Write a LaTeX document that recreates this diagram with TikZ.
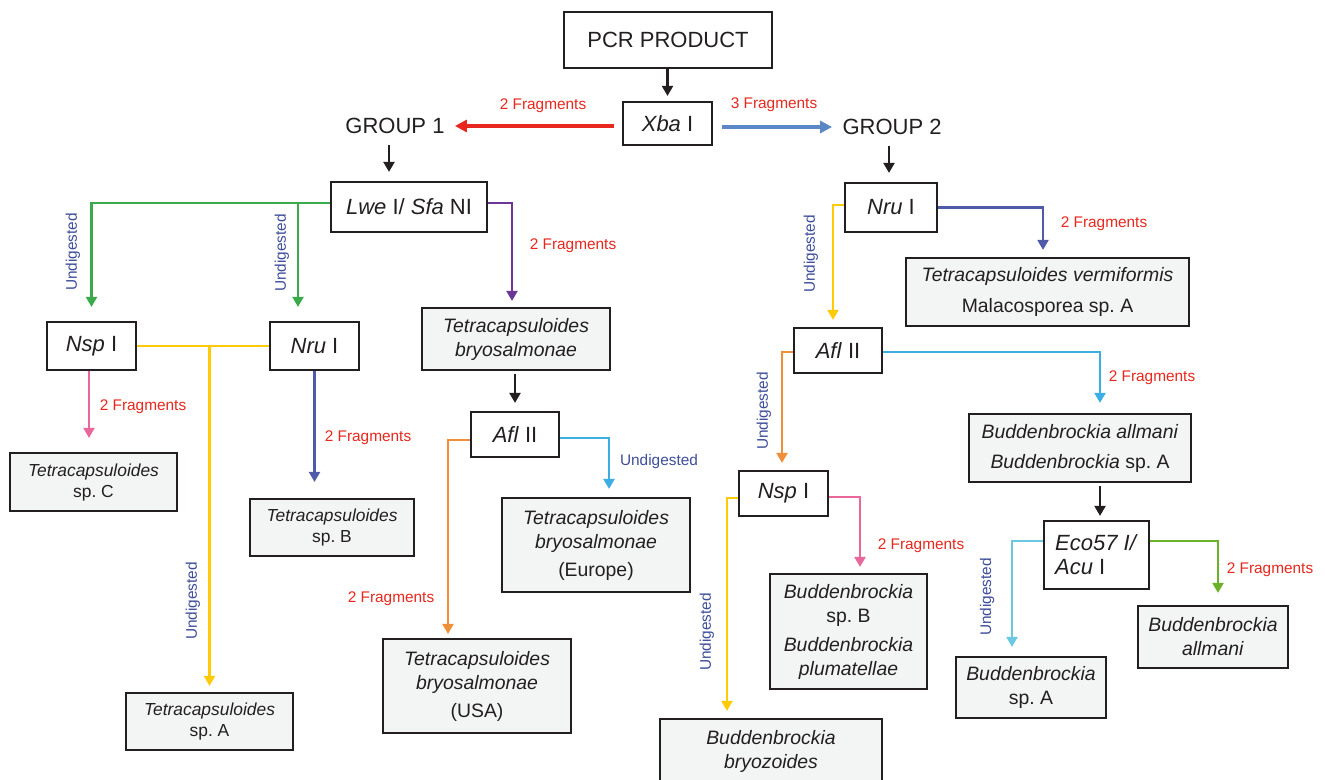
\documentclass[tikz,border=0pt]{standalone}
\usepackage{fontspec}
\setmainfont{Liberation Sans}
\usepackage{xcolor}
\usepackage{tikz}
\usetikzlibrary{arrows.meta,calc}
\frenchspacing
\definecolor{ink}{HTML}{231F20}
\definecolor{boxgray}{HTML}{F3F5F4}
\definecolor{fragred}{HTML}{E8281E}
\definecolor{undigblue}{HTML}{3E4E9B}
\definecolor{xbablue}{HTML}{5B87C7}
\definecolor{lwegreen}{HTML}{3BAA4B}
\definecolor{lwepurple}{HTML}{6B3696}
\definecolor{cutyellow}{HTML}{FFCB08}
\definecolor{nsppink}{HTML}{EA679B}
\definecolor{nrunavy}{HTML}{4F5AA8}
\definecolor{aflorange}{HTML}{F18E3A}
\definecolor{aflblue}{HTML}{3DAEE4}
\definecolor{ecocyan}{HTML}{6CC7E0}
\definecolor{ecogreen}{HTML}{6BB22A}
\tikzset{
  enz/.style={draw=ink, line width=1.1pt, fill=white, text=ink, align=center,
              font=\fontsize{11}{12}\selectfont, inner sep=2pt},
  taxon/.style={enz, fill=boxgray, font=\fontsize{9.7}{12}\selectfont},
  taxsmall/.style={taxon, font=\fontsize{8.7}{10.5}\selectfont},
  grp/.style={text=ink, font=\fontsize{11}{12}\selectfont, inner sep=0pt},
  frag/.style={text=fragred, font=\fontsize{7.7}{9}\selectfont, inner sep=0pt},
  undig/.style={text=undigblue, font=\fontsize{7.7}{9}\selectfont, inner sep=0pt},
  vundig/.style={undig, rotate=90},
  arr/.style={-{Triangle[length=5pt,width=5.5pt]}, line width=1.1pt},
  bigarr/.style={-{Triangle[length=6pt,width=6pt]}, line width=1.6pt},
  blk/.style={arr, draw=ink}
}

\begin{document}
\begin{tikzpicture}[x=0.5pt, y=-0.5pt]
  \path[use as bounding box, fill=white] (0,0) rectangle (1325,780);

  \node[enz, minimum width=104pt, minimum height=28pt] (pcr) at (668,40) {PCR PRODUCT};
  \node[enz, minimum width=44.5pt, minimum height=21.5pt] (xba) at (667.5,123.5) {\textit{Xba} I};
  \node[grp] (grp1) at (395,126) {GROUP 1};
  \node[grp] (grp2) at (892,127) {GROUP 2};
  \node[enz, minimum width=78pt, minimum height=25pt] (lwe) at (409,207) {\textit{Lwe} I/ \textit{Sfa} NI};
  \node[enz, minimum width=44.5pt, minimum height=24pt] (nspL) at (91.5,346) {\textit{Nsp} I};
  \node[enz, minimum width=44.5pt, minimum height=24pt] (nruL) at (314.5,346) {\textit{Nru} I};
  \node[taxon, minimum width=94pt, minimum height=31pt] (tbryo) at (516,339)
       {\textit{Tetracapsuloides}\\\textit{bryosalmonae}};
  \node[enz, minimum width=44pt, minimum height=22.5pt] (aflL) at (515,434.5) {\textit{Afl} II};
  \node[taxsmall, minimum width=83.5pt, minimum height=29pt] (spC) at (93.5,482)
       {\textit{Tetracapsuloides}\\sp. C};
  \node[taxsmall, minimum width=82pt, minimum height=28.5pt] (spB) at (332,527.5)
       {\textit{Tetracapsuloides}\\sp. B};
  \node[taxsmall, minimum width=83.5pt, minimum height=28.5pt] (spA) at (209.5,721.5)
       {\textit{Tetracapsuloides}\\sp. A};
  \node[taxon, minimum width=94pt, minimum height=47pt] (usa) at (477,686)
       {\textit{Tetracapsuloides}\\\textit{bryosalmonae}\\[2pt](USA)};
  \node[taxon, minimum width=94pt, minimum height=47pt] (europe) at (596,545)
       {\textit{Tetracapsuloides}\\\textit{bryosalmonae}\\[2pt](Europe)};

  \node[enz, minimum width=46pt, minimum height=24.5pt] (nruR) at (891,207.5) {\textit{Nru} I};
  \node[taxon, minimum width=141.5pt, minimum height=34pt] (verm) at (1047.5,292)
       {\textit{Tetracapsuloides vermiformis}\\[3.5pt]Malacosporea sp. A};
  \node[enz, minimum width=44pt, minimum height=22.5pt] (aflR) at (838,350.5) {\textit{Afl} II};
  \node[taxon, minimum width=111pt, minimum height=34pt] (budAllA) at (1080,448)
       {\textit{Buddenbrockia allmani}\\[3pt]\textit{Buddenbrockia} sp. A};
  \node[enz, minimum width=44.5pt, minimum height=22.5pt] (nspR) at (783.5,493.5) {\textit{Nsp} I};
  \node[enz, minimum width=52.5pt, minimum height=34pt, align=left] (eco) at (1096.5,555)
       {\textit{Eco57 I/}\\\textit{Acu} I};
  \node[taxon, minimum width=78.5pt, minimum height=57.5pt] (budB) at (848.5,631.5)
       {\textit{Buddenbrockia}\\sp. B\\[2.5pt]\textit{Buddenbrockia}\\\textit{plumatellae}};
  \node[taxon, minimum width=111pt, minimum height=32pt] (bryoz) at (771,751)
       {\textit{Buddenbrockia}\\\textit{bryozoides}};
  \node[taxon, minimum width=75pt, minimum height=30.5pt] (budA) at (1031,687.5)
       {\textit{Buddenbrockia}\\sp. A};
  \node[taxon, minimum width=75pt, minimum height=31pt] (allmani) at (1213,637)
       {\textit{Buddenbrockia}\\\textit{allmani}};

  \draw[blk, shorten >=2.5pt] (pcr.south -| xba.north) -- (xba.north);
  \draw[bigarr, draw=fragred, shorten <=4pt, shorten >=5pt] (grp1.east -| xba.west) -- (grp1.east);
  \node[frag] (fr1) at (543,106) {2 Fragments};
  \draw[bigarr, draw=xbablue, shorten <=4.5pt, shorten >=5pt] (grp2.west -| xba.east) -- (grp2.west);
  \node[frag] (fr2) at (774,105) {3 Fragments};
  \draw[blk, shorten <=5.5pt, shorten >=4.5pt] ([xshift=-3pt]grp1.south) -- ([xshift=-3pt]grp1.south |- lwe.north);
  \draw[blk, shorten <=5.5pt, shorten >=4.5pt] ([xshift=-1.5pt]grp2.south) -- ([xshift=-1.5pt]grp2.south |- nruR.north);

  \draw[arr, draw=lwegreen, shorten >=7pt] ([yshift=2pt]lwe.west) -| (nspL.north);
  \coordinate (gsplit) at (298,203);
  \draw[arr, draw=lwegreen, shorten >=7pt] (gsplit) -- (gsplit |- nruL.north);
  \node[vundig] (u1) at (73,252) {Undigested};
  \node[vundig] (u2) at (282,253) {Undigested};
  \draw[arr, draw=lwepurple, shorten >=3pt] ([yshift=2pt]lwe.east) -| ([xshift=-2pt]tbryo.north);
  \node[frag] (fr3) at (573,246) {2 Fragments};
  \draw[blk, shorten <=1.5pt, shorten >=4pt] (tbryo.south -| aflL.north) -- (aflL.north);

  \draw[draw=cutyellow, line width=1.1pt] (nspL.east) -- (nruL.west);
  \draw[arr, draw=cutyellow, shorten >=3pt] (nspL.east -| spA.north) -- (spA.north);
  \node[vundig] (u3) at (193,601) {Undigested};
  \draw[arr, draw=nsppink, shorten >=7pt] ([xshift=-1.25pt]nspL.south) -- ([xshift=-1.25pt]nspL.south |- spC.north);
  \node[frag] (fr4) at (143,407) {2 Fragments};
  \draw[arr, draw=nrunavy, shorten >=8pt] (nruL.south) -- (nruL.south |- spB.north);
  \node[frag] (fr5) at (368,438) {2 Fragments};
  \draw[arr, draw=aflorange, shorten >=2pt] ([yshift=-2.75pt]aflL.west) -| ([xshift=-14.5pt]usa.north);
  \node[frag] (fr6) at (391,599) {2 Fragments};
  \draw[arr, draw=aflblue, shorten >=4pt] ([yshift=-1.75pt]aflL.east) -| ([xshift=6.5pt]europe.north);
  \node[undig] (u4) at (659,462) {Undigested};

  \draw[arr, draw=cutyellow, shorten >=3.5pt] ([yshift=1.25pt]nruR.west) -| ([xshift=-2.5pt]aflR.north);
  \node[vundig] (u5) at (811,254) {Undigested};
  \draw[arr, draw=nrunavy, shorten >=3.5pt] (nruR.east) -| ([xshift=-2.25pt]verm.north);
  \node[frag] (fr7) at (1104,224) {2 Fragments};
  \draw[arr, draw=aflorange, shorten >=3.5pt] ([yshift=-0.75pt]aflR.west) -| ([xshift=-0.75pt]nspR.north);
  \node[vundig] (u6) at (764,411) {Undigested};
  \draw[arr, draw=aflblue, shorten >=5pt] ([yshift=-0.75pt]aflR.east) -| ([xshift=10pt]budAllA.north);
  \node[frag] (fr8) at (1152,378) {2 Fragments};
  \draw[blk, shorten <=1.5pt, shorten >=2pt] ([xshift=1.75pt]eco.north |- budAllA.south) -- ([xshift=1.75pt]eco.north);
  \draw[arr, draw=cutyellow, shorten >=3.5pt] ([yshift=-2.25pt]nspR.west) -| ([xshift=-22pt]bryoz.north);
  \node[vundig] (u7) at (707,632) {Undigested};
  \draw[arr, draw=nsppink, shorten >=3pt] ([yshift=-1.75pt]nspR.east) -| ([xshift=5.75pt]budB.north);
  \node[frag] (fr9) at (921,546) {2 Fragments};
  \draw[arr, draw=ecocyan, shorten >=4.5pt] ([yshift=7pt]eco.west) -| ([xshift=-9.5pt]budA.north);
  \node[vundig] (u8) at (987,597) {Undigested};
  \draw[arr, draw=ecogreen, shorten >=6pt] ([yshift=7pt]eco.east) -| ([xshift=2.5pt]allmani.north);
  \node[frag] (fr10) at (1270,570) {2 Fragments};
\end{tikzpicture}
\end{document}
